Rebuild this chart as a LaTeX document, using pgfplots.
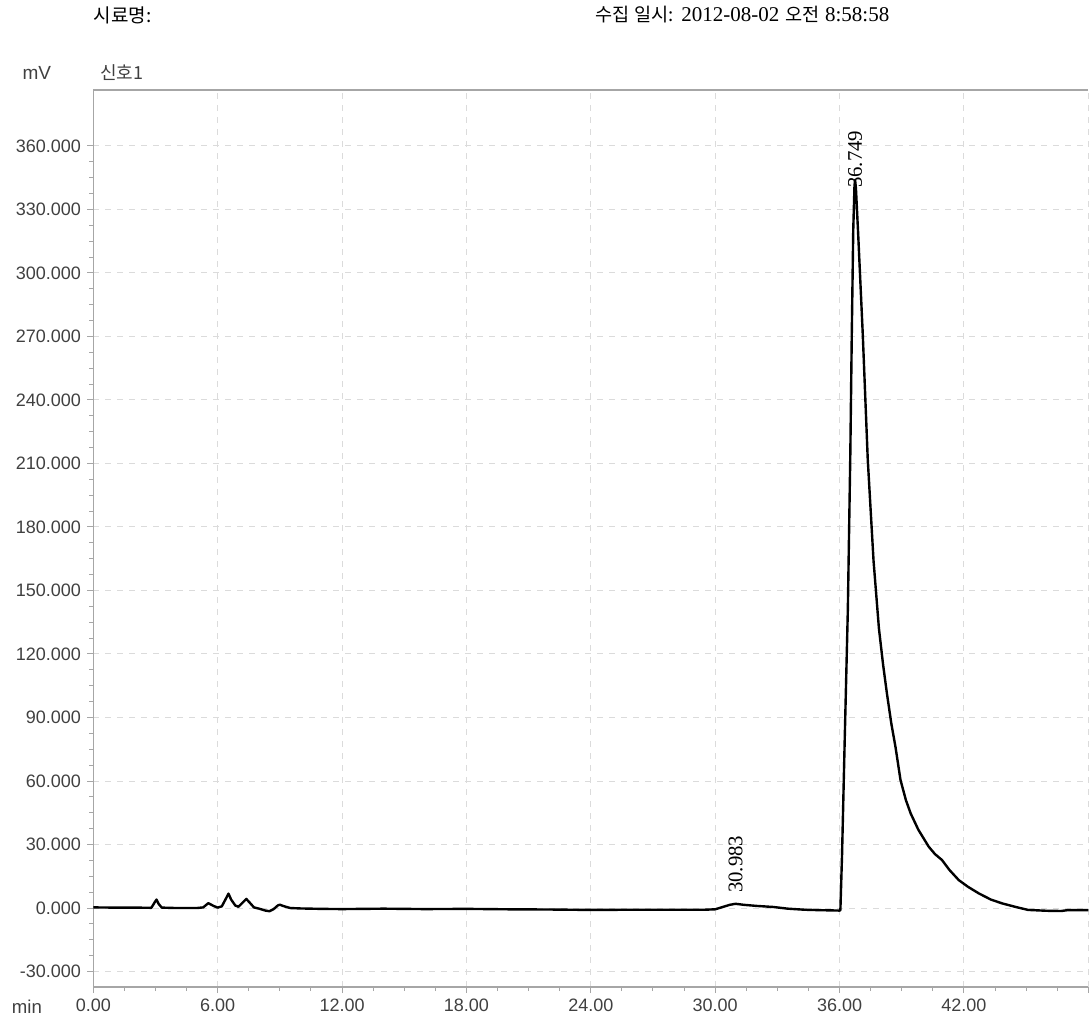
\documentclass[border=0pt]{standalone}
\usepackage{pgfplots}
\pgfplotsset{compat=1.18}
\usepackage{fontspec}
\setmainfont{Liberation Sans}
\newfontfamily\cjk{Noto Sans CJK KR}
\newfontfamily\serifc{Liberation Serif}
\definecolor{tl}{HTML}{404040}

\begin{document}
\begin{tikzpicture}
\useasboundingbox (-46.65pt,-15pt) rectangle (499.35pt,493.5pt);
\begin{axis}[
  scale only axis, width=497.5pt, height=448.5pt,
  at={(0,0)}, anchor=south west,
  xmin=0, xmax=48, ymin=-37.3, ymax=386.4,
  axis x line*=bottom, axis y line*=left,
  axis line style={gray!70, line width=0.7pt, -},
  xtick={0,6,12,18,24,30,36,42,48},
  xticklabels={0.00,6.00,12.00,18.00,24.00,30.00,36.00,42.00,{}},
  ytick={-30,0,30,60,90,120,150,180,210,240,270,300,330,360},
  yticklabels={-30.000,0.000,30.000,60.000,90.000,120.000,150.000,180.000,210.000,240.000,270.000,300.000,330.000,360.000},
  minor x tick num=3, minor y tick num=3,
  tick align=outside,
  major tick length=3pt, minor tick length=2pt,
  tick style={gray!70, line width=0.5pt},
  grid=major, major grid style={gray!28, dashed, line width=0.5pt},
  ticklabel style={font=\fontsize{9}{11}\selectfont, text=tl},
  xticklabel style={anchor=base, inner sep=0pt, yshift=-9pt},
  yticklabel style={anchor=east, inner sep=0pt, xshift=-3pt},
  clip=false,
]
\addplot[black, line width=1.2pt, line join=round] coordinates {
(0,0.3)(1,0.2)(2,0.2)(2.8,0.1)(2.95,2.5)(3.05,4.0)(3.15,2.0)(3.3,0.2)(4,0)(5,0)
(5.3,0.3)(5.55,2.3)(5.8,1.0)(6.0,0.2)(6.2,0.8)(6.4,4.5)(6.52,6.8)(6.65,4)(6.85,1.2)
(7.0,0.6)(7.2,2.5)(7.38,4.3)(7.55,2.5)(7.75,0.3)(8.0,-0.3)(8.3,-1.2)(8.5,-1.5)
(8.7,-0.5)(8.9,1.2)(9.0,1.6)(9.15,1.0)(9.5,0)(10,-0.2)(11,-0.4)(12,-0.5)(14,-0.3)
(16,-0.5)(18,-0.4)(20,-0.6)(22,-0.7)(24,-0.9)(26,-0.8)(28,-0.8)(29.5,-0.8)(30.0,-0.6)
(30.3,0.3)(30.7,1.5)(30.98,2.0)(31.4,1.5)(32,1.0)(32.8,0.5)(33.5,-0.3)(34.3,-0.8)
(35,-1.0)(36.0,-1.2)(36.04,-1.0)(36.12,25)(36.25,80)(36.40,141)(36.52,215)(36.59,271)
(36.66,320)(36.72,341)(36.749,344)(36.79,340)(36.9,318)(37.12,271)(37.36,212)
(37.64,164)(37.77,148)(37.9,132)(38.1,115)(38.29,101)(38.5,87)(38.7,76)(38.94,60.5)
(39.2,51)(39.43,44.7)(39.8,37)(40.3,29)(40.6,25.5)(40.94,22.7)(41.3,18)(41.75,13.2)
(42.2,10)(42.72,6.9)(43.3,4)(43.84,2.2)(44.5,0.5)(45.1,-0.9)(46,-1.3)(46.7,-1.4)
(47,-1.0)(48,-1.0)
};
\draw[gray!70, line width=0.8pt] (rel axis cs:0,1) -- (rel axis cs:1,1);
\node[font=\serifc\fontsize{10.4}{12}\selectfont, rotate=90, anchor=west, inner sep=0pt] at (axis cs:30.983,7) {30.983};
\node[font=\serifc\fontsize{10.4}{12}\selectfont, rotate=90, anchor=west, inner sep=0pt] at (axis cs:36.749,340) {36.749};
\end{axis}
\node[anchor=west, inner sep=0pt, font=\cjk\fontsize{9.5}{11}\selectfont] at (0pt,486pt) {시료명:};
\node[anchor=west, inner sep=0pt, font=\fontsize{10.5}{12}\selectfont] at (251pt,486pt) {{\cjk\fontsize{9.3}{11}\selectfont 수집 일시:} {\serifc 2012-08-02} {\cjk\fontsize{9.3}{11}\selectfont 오전} {\serifc 8:58:58}};
\node[anchor=center, inner sep=0pt, text=tl, font=\fontsize{9.5}{11}\selectfont] at (-28.2pt,457pt) {mV};
\node[anchor=west, inner sep=0pt, text=tl, font=\cjk\fontsize{9}{11}\selectfont] at (3.3pt,457pt) {신호1};
\node[anchor=base, inner sep=0pt, text=tl, font=\fontsize{9.3}{11}\selectfont] at (-33.2pt,-13pt) {min};
\end{tikzpicture}
\end{document}
